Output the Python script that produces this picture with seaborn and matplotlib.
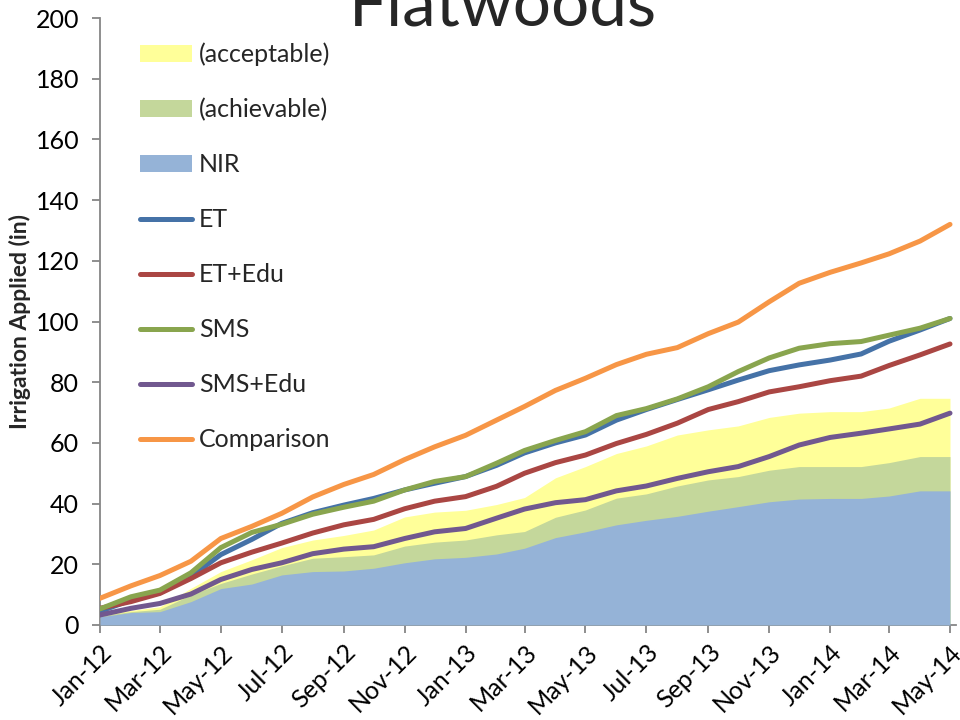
import matplotlib
matplotlib.use("Agg")
import matplotlib.pyplot as plt
import matplotlib.dates as mdates
from matplotlib.patches import Patch
from matplotlib.lines import Line2D
import numpy as np
import pandas as pd
import seaborn as sns

# Monthly cumulative irrigation, Jan 2012 - May 2014 (inches)
months = pd.date_range("2012-01-01", "2014-05-01", freq="MS")

nir = [2.7, 4.1, 4.4, 7.7, 12.0, 13.5, 16.5, 17.6, 17.8, 18.7, 20.5, 21.8, 22.3, 23.4,
       25.3, 28.8, 30.7, 33.0, 34.5, 35.8, 37.5, 39.0, 40.6, 41.5, 41.7, 41.7, 42.5, 44.2, 44.2]
achievable = [3.0, 4.4, 5.2, 9.9, 13.7, 16.8, 19.5, 22.0, 22.5, 23.1, 26.0, 27.3, 28.0, 29.7,
              30.8, 35.5, 37.9, 41.8, 43.2, 45.8, 47.8, 48.9, 51.0, 52.2, 52.2, 52.2, 53.5, 55.5, 55.5]
acceptable = [3.3, 4.8, 6.0, 12.1, 17.6, 21.5, 25.5, 28.0, 29.5, 31.3, 35.6, 37.2, 37.8, 39.7,
              42.0, 48.5, 52.2, 56.5, 59.0, 62.6, 64.3, 65.6, 68.4, 69.8, 70.3, 70.3, 71.5, 74.7, 74.7]

et = [4.5, 8.2, 10.6, 16.0, 23.2, 28.2, 33.5, 37.0, 39.5, 41.7, 44.5, 46.7, 48.9, 52.6,
      56.7, 60.0, 62.6, 67.5, 71.0, 74.3, 77.5, 80.7, 83.8, 85.7, 87.3, 89.3, 93.5, 97.2, 101.0]
et_edu = [5.5, 7.7, 10.4, 15.3, 20.5, 24.0, 27.0, 30.3, 33.0, 34.8, 38.3, 40.8, 42.3, 45.7,
          50.0, 53.5, 56.0, 59.8, 62.8, 66.5, 71.0, 73.6, 76.8, 78.5, 80.5, 82.0, 85.5, 89.0, 92.6]
sms = [5.3, 9.3, 11.5, 17.2, 25.5, 30.5, 33.2, 36.5, 38.8, 40.8, 44.5, 47.3, 48.9, 53.3,
       57.5, 60.8, 63.7, 69.0, 71.3, 74.5, 78.5, 83.5, 88.0, 91.2, 92.7, 93.4, 95.5, 97.8, 101.0]
sms_edu = [3.3, 5.5, 7.1, 10.2, 15.0, 18.3, 20.5, 23.5, 25.0, 25.8, 28.5, 30.7, 31.8, 35.2,
           38.2, 40.3, 41.3, 44.2, 45.8, 48.3, 50.5, 52.2, 55.5, 59.3, 61.8, 63.2, 64.6, 66.2, 69.8]
comparison = [8.8, 12.9, 16.3, 21.0, 28.5, 32.5, 36.8, 42.2, 46.3, 49.6, 54.5, 58.7, 62.5, 67.5,
              72.0, 77.3, 81.3, 85.8, 89.2, 91.4, 96.0, 99.8, 106.5, 112.6, 116.2, 119.3, 122.3, 126.5, 132.0]

line_names = ["ET", "ET+Edu", "SMS", "SMS+Edu", "Comparison"]
line_values = [et, et_edu, sms, sms_edu, comparison]
line_colors = ["#4572A7", "#AA4643", "#89A54E", "#71588F", "#F79646"]
area_colors = {"(acceptable)": "#FFFF99", "(achievable)": "#C4D79B", "NIR": "#95B3D7"}

long_df = pd.concat(
    [pd.DataFrame({"date": months, "value": v, "series": n}) for n, v in zip(line_names, line_values)],
    ignore_index=True,
)

sns.set_theme(style="white")
plt.rcParams["font.family"] = ["Lato", "DejaVu Sans"]

fig = plt.figure(figsize=(9.6, 7.2), dpi=100)
ax = fig.add_axes([100 / 960, 95 / 720, 856 / 960, 607 / 720])

# Stacked target bands
ax.fill_between(months, 0, acceptable, color=area_colors["(acceptable)"], lw=0, zorder=1)
ax.fill_between(months, 0, achievable, color=area_colors["(achievable)"], lw=0, zorder=2)
ax.fill_between(months, 0, nir, color=area_colors["NIR"], lw=0, zorder=3)

sns.lineplot(data=long_df, x="date", y="value", hue="series", hue_order=line_names,
             palette=line_colors, linewidth=3.6, legend=False, ax=ax, zorder=5,
             solid_capstyle="round")

ax.set_ylim(0, 200)
ax.set_yticks(np.arange(0, 201, 20))
ax.set_xlim(pd.Timestamp("2012-01-01"), pd.Timestamp("2014-05-07"))
ax.xaxis.set_major_locator(mdates.MonthLocator(bymonth=[1, 3, 5, 7, 9, 11]))
ax.xaxis.set_major_formatter(mdates.DateFormatter("%b-%y"))

for s in ["top", "right"]:
    ax.spines[s].set_visible(False)
for s in ["left", "bottom"]:
    ax.spines[s].set_color("#868686")
    ax.spines[s].set_linewidth(1.3)
ax.tick_params(axis="both", which="major", direction="out", length=6, width=1.3,
               color="#868686", labelsize=18, labelcolor="black", left=True, bottom=True)
ax.tick_params(axis="y", pad=9)
ax.tick_params(axis="x", pad=5)
plt.setp(ax.get_xticklabels(), rotation=45, ha="right", rotation_mode="anchor")

ax.set_xlabel("")
ax.set_ylabel("Irrigation Applied (in)", fontsize=16.5, fontweight="bold", labelpad=3)

fig.text(503 / 960, 1 - 25 / 720, "Flatwoods", fontsize=48.5, ha="center", va="baseline")

handles = [Patch(facecolor=area_colors[k], edgecolor="none") for k in ["(acceptable)", "(achievable)", "NIR"]]
handles += [Line2D([0], [0], color=c, lw=3.6, solid_capstyle="round") for c in line_colors]
labels = ["(acceptable)", "(achievable)", "NIR"] + line_names
ax.legend(handles, labels, loc="upper left", bbox_to_anchor=(0.035, 0.976), frameon=False,
          fontsize=18, handlelength=2.1, handletextpad=0.25, labelspacing=1.28,
          borderaxespad=0)

fig.savefig("out.png", dpi=100)
